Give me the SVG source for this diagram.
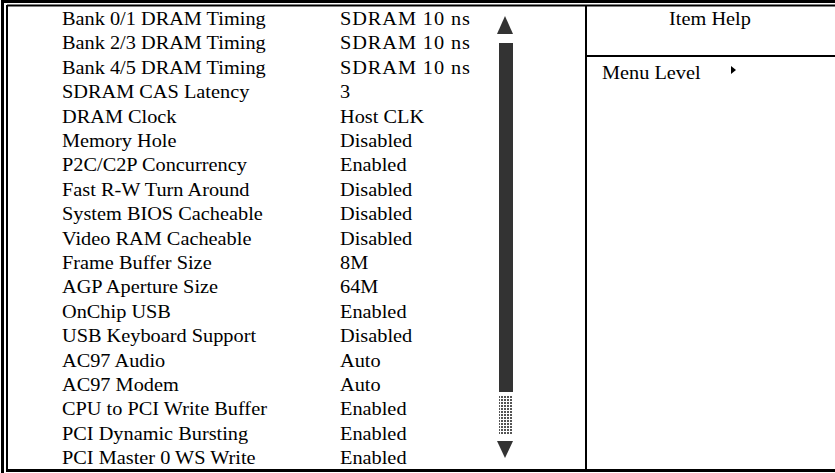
<svg xmlns="http://www.w3.org/2000/svg" width="835" height="473" viewBox="0 0 835 473">
<style>
text{font-family:"Liberation Serif","Times New Roman",serif;font-size:19px;fill:#000}
.frame{fill:none;stroke:#000}
</style>
<defs>
<pattern id="dots" width="3" height="3" patternUnits="userSpaceOnUse">
<rect x="0" y="0" width="2" height="2" fill="#555"/>
</pattern>
</defs>
<rect width="835" height="473" fill="#fff"/>
<g id="frame">
<line class="frame" x1="2.5" y1="0" x2="2.5" y2="473" stroke-width="3"/>
<line class="frame" x1="7" y1="5" x2="7" y2="471" stroke-width="2"/>
<line class="frame" x1="2" y1="1.5" x2="835" y2="1.5" stroke-width="3"/>
<line class="frame" x1="7" y1="5.5" x2="835" y2="5.5" stroke-width="2"/>
<line class="frame" x1="6" y1="470.5" x2="835" y2="470.5" stroke-width="3"/>
<line class="frame" x1="586" y1="5" x2="586" y2="470" stroke-width="2"/>
<line class="frame" x1="586" y1="56" x2="835" y2="56" stroke-width="2"/>
</g>
<g id="labels" transform="translate(62 0) scale(1.07 1)">
<text x="0" y="25">Bank 0/1 DRAM Timing</text>
<text x="0" y="49.4">Bank 2/3 DRAM Timing</text>
<text x="0" y="73.8">Bank 4/5 DRAM Timing</text>
<text x="0" y="98.2">SDRAM CAS Latency</text>
<text x="0" y="122.6">DRAM Clock</text>
<text x="0" y="147">Memory Hole</text>
<text x="0" y="171.4">P2C/C2P Concurrency</text>
<text x="0" y="195.8">Fast R-W Turn Around</text>
<text x="0" y="220.2">System BIOS Cacheable</text>
<text x="0" y="244.6">Video RAM Cacheable</text>
<text x="0" y="269">Frame Buffer Size</text>
<text x="0" y="293.4">AGP Aperture Size</text>
<text x="0" y="317.8">OnChip USB</text>
<text x="0" y="342.2">USB Keyboard Support</text>
<text x="0" y="366.6">AC97 Audio</text>
<text x="0" y="391">AC97 Modem</text>
<text x="0" y="415.4">CPU to PCI Write Buffer</text>
<text x="0" y="439.8">PCI Dynamic Bursting</text>
<text x="0" y="464.2">PCI Master 0 WS Write</text>
</g>
<g id="values" transform="translate(340 0) scale(1.07 1)">
<text x="0" y="25" textLength="121.5" lengthAdjust="spacing">SDRAM 10 ns</text>
<text x="0" y="49.4" textLength="121.5" lengthAdjust="spacing">SDRAM 10 ns</text>
<text x="0" y="73.8" textLength="121.5" lengthAdjust="spacing">SDRAM 10 ns</text>
<text x="0" y="98.2">3</text>
<text x="0" y="122.6">Host CLK</text>
<text x="0" y="147">Disabled</text>
<text x="0" y="171.4">Enabled</text>
<text x="0" y="195.8">Disabled</text>
<text x="0" y="220.2">Disabled</text>
<text x="0" y="244.6">Disabled</text>
<text x="0" y="269">8M</text>
<text x="0" y="293.4">64M</text>
<text x="0" y="317.8">Enabled</text>
<text x="0" y="342.2">Disabled</text>
<text x="0" y="366.6">Auto</text>
<text x="0" y="391">Auto</text>
<text x="0" y="415.4">Enabled</text>
<text x="0" y="439.8">Enabled</text>
<text x="0" y="464.2">Enabled</text>
</g>
<g id="scrollbar">
<polygon points="505,16 513,34 497,34" fill="#333"/>
<rect x="499" y="43" width="14" height="349" fill="#333"/>
<rect x="499" y="395" width="14" height="39" fill="url(#dots)"/>
<polygon points="497,441 513,441 505,458" fill="#333"/>
</g>
<g id="help">
<text x="710" y="25" text-anchor="middle" transform="translate(710 0) scale(1.07 1) translate(-710 0)">Item Help</text>
<text x="602" y="79" transform="translate(602 0) scale(1.07 1) translate(-602 0)">Menu Level</text>
<polygon points="731,66 736,70 731,74" fill="#000"/>
</g>
</svg>
